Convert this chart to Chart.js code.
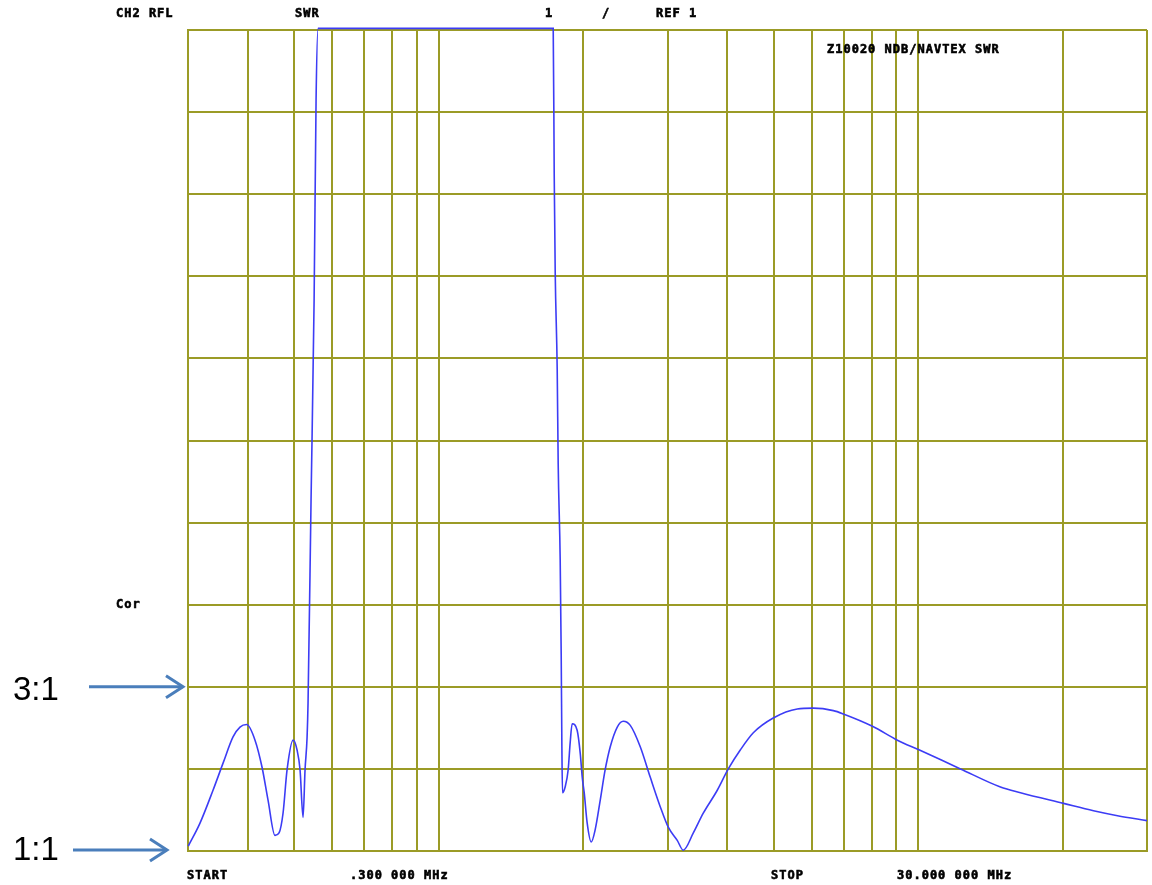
<!DOCTYPE html>
<html>
<head>
<meta charset="utf-8">
<script src="https://cdn.jsdelivr.net/npm/chart.js@4"></script>
<style>
	html, body { margin: 0; padding: 0; background: #fff; }
	#wrap { position: relative; width: 1152px; height: 885px; }
</style>
</head>
<body>
<div id="wrap"><canvas id="swrChart" width="1152" height="885"></canvas></div>
<script>
// frequency in MHz (log axis) and SWR
const freqs = [
	0.3004, 0.3178, 0.3383, 0.355, 0.3724, 0.3851, 0.3977, 0.4139, 0.4281, 0.4406,
	0.4556, 0.4645, 0.4735, 0.4828, 0.4969, 0.5065, 0.5138, 0.5213, 0.5263, 0.5314,
	0.5339, 0.5417, 0.5497, 0.5549, 0.5603, 1.7245, 1.7329, 1.7412, 1.7496, 1.7665,
	1.7749, 1.792, 1.8006, 1.8066, 1.8118, 1.835, 1.862, 1.88, 1.898, 1.944,
	1.973, 1.992, 2.011, 2.04, 2.08, 2.12, 2.172, 2.224, 2.279, 2.357,
	2.426, 2.509, 2.632, 2.761, 2.897, 3.011, 3.144, 3.236, 3.396, 3.562,
	3.81, 4.017, 4.255, 4.53, 4.985, 5.594, 6.041, 6.653, 6.978, 8.025,
	9.047, 10.06, 12.25, 14.84, 16.34, 20.09, 23.2, 26.04, 30.0
];
const swr = [
	1.06, 1.34, 1.74, 2.07, 2.39, 2.51, 2.54, 2.35, 2.02, 1.62,
	1.19, 1.22, 1.46, 1.99, 2.35, 2.23, 1.99, 1.41, 1.99, 2.38,
	2.8, 5.28, 7.71, 10.15, 11.02, 11.02, 11.02, 9.25, 8.05, 6.86,
	5.71, 4.54, 3.4, 2.27, 1.71, 1.78, 1.99, 2.32, 2.55, 2.47,
	2.19, 1.9, 1.71, 1.34, 1.11, 1.26, 1.62, 1.99, 2.27, 2.51,
	2.58, 2.53, 2.27, 1.9, 1.54, 1.29, 1.13, 1.01, 1.22, 1.46,
	1.74, 2.0, 2.23, 2.44, 2.62, 2.73, 2.74, 2.71, 2.67, 2.52,
	2.35, 2.23, 2.0, 1.78, 1.71, 1.58, 1.49, 1.43, 1.37
];
// vertical grid lines (MHz)
const gridFreqs = [0.3, 0.4, 0.5, 0.6, 0.7, 0.8, 0.9, 1, 2, 3, 4, 5, 6, 7, 8, 9, 10, 20, 30];

const gridColor = '#9b9b26';
const monoFont = 'bold 12px "DejaVu Sans Mono", monospace';

// analyzer annotations and the added 3:1 / 1:1 arrows
const labelsPlugin = {
	id: 'labels',
	afterDraw(chart) {
		const ctx = chart.ctx;
		ctx.save();
		ctx.fillStyle = '#000';
		ctx.strokeStyle = '#000';
		ctx.lineWidth = 0.6;
		ctx.font = monoFont;
		ctx.letterSpacing = '1px';
		ctx.textBaseline = 'middle';
		ctx.textAlign = 'left';
		const txt = (s, x, y) => {
			ctx.fillText(s, x, y);
			ctx.strokeText(s, x, y);
		};
		txt('CH2 RFL', 116, 14);
		txt('SWR', 295, 14);
		txt('1', 545, 14);
		txt('/', 602, 14);
		txt('REF 1', 656, 14);
		txt('Z10020 NDB/NAVTEX SWR', 827, 50);
		txt('Cor', 116, 605);
		txt('START', 187, 876);
		txt('.300 000 MHz', 350, 876);
		txt('STOP', 771, 876);
		txt('30.000 000 MHz', 897, 876);

		ctx.letterSpacing = '0px';
		ctx.font = '33px "Liberation Sans", Arial, sans-serif';
		ctx.fillText('3:1', 13, 691);
		ctx.fillText('1:1', 13, 851);

		const yScale = chart.scales.y;
		const arrow = (x1, x2, y) => {
			ctx.strokeStyle = '#4a7ebb';
			ctx.lineWidth = 3;
			ctx.beginPath();
			ctx.moveTo(x1, y);
			ctx.lineTo(x2, y);
			ctx.stroke();
			ctx.beginPath();
			ctx.moveTo(x2 - 17, y - 11);
			ctx.lineTo(x2, y);
			ctx.lineTo(x2 - 17, y + 11);
			ctx.stroke();
		};
		arrow(89, 183, yScale.getPixelForValue(3));
		arrow(73, 167, yScale.getPixelForValue(1) - 1);
		ctx.restore();
	}
};

const ctx = document.getElementById('swrChart');
new Chart(ctx, {
	type: 'line',
	data: {
		labels: freqs,
		datasets: [{
			data: freqs.map((f, i) => ({ x: f, y: swr[i] })),
			borderColor: '#3c3cf5',
			borderWidth: 1.6,
			pointRadius: 0,
			cubicInterpolationMode: 'monotone',
			clip: false
		}]
	},
	options: {
		responsive: false,
		animation: false,
		events: [],
		layout: { padding: { left: 188, right: 5, top: 30, bottom: 34 } },
		plugins: { legend: { display: false }, tooltip: { enabled: false } },
		scales: {
			x: {
				type: 'logarithmic',
				min: 0.3,
				max: 30,
				afterBuildTicks: (axis) => {
					axis.ticks = gridFreqs.map(v => ({ value: v }));
				},
				ticks: { display: false },
				grid: { color: gridColor, lineWidth: 2, drawTicks: false },
				border: { color: gridColor, width: 2 }
			},
			y: {
				type: 'linear',
				min: 1,
				max: 11,
				ticks: { display: false, stepSize: 1 },
				grid: { color: gridColor, lineWidth: 2, drawTicks: false },
				border: { color: gridColor, width: 2 }
			}
		}
	},
	plugins: [labelsPlugin]
});
</script>
</body>
</html>
